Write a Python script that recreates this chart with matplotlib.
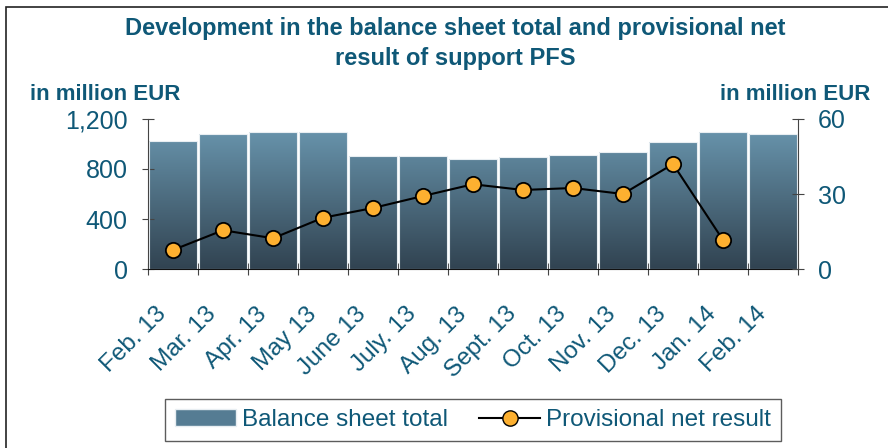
import numpy as np
import matplotlib
matplotlib.use("Agg")
import matplotlib.pyplot as plt
import matplotlib.transforms as mtransforms
from matplotlib.patches import Rectangle, Patch
from matplotlib.lines import Line2D

plt.rcParams['font.family'] = ['Liberation Sans', 'DejaVu Sans']

# data
months = ["Feb. 13", "Mar. 13", "Apr. 13", "May 13", "June 13", "July. 13", "Aug. 13",
          "Sept. 13", "Oct. 13", "Nov. 13", "Dec. 13", "Jan. 14", "Feb. 14"]
balance = [1026, 1077, 1093, 1093, 901, 901, 883, 899, 915, 933, 1013, 1093, 1077]
net_result = [7.6, 15.5, 12.3, 20.5, 24.4, 29.2, 33.9, 31.6, 32.4, 30.0, 42.0, 11.6]

txt = "#0F5877"
top_c = np.array([0x6C, 0x9A, 0xB3]) / 255
bot_c = np.array([0x31, 0x43, 0x51]) / 255

fig = plt.figure(figsize=(8.88, 4.48), dpi=100)
ax = fig.add_axes([148/888, 1-269/448, 650/888, 150/448])

x = np.arange(len(months))
bars = ax.bar(x, balance, width=0.96, color="none", edgecolor="#E8EEF2", linewidth=0.8, zorder=2)

# vertical gradient inside each bar
grad = np.linspace(0, 1, 256).reshape(-1, 1)
cols = bot_c[None, :] * (1 - grad) + top_c[None, :] * grad
cols = cols.reshape(256, 1, 3)
for b in bars:
    im = ax.imshow(cols, origin="lower", aspect="auto", zorder=1,
                   extent=[b.get_x(), b.get_x() + b.get_width(), 0, 1200])
    im.set_clip_path(b)

ax.set_xlim(-0.5, len(months) - 0.5)
ax.set_ylim(0, 1200)
ax.set_yticks([0, 400, 800, 1200])
ax.set_yticklabels(["0", "400", "800", "1,200"])
ax.tick_params(axis="y", direction="inout", length=9, width=0.8, colors="#444444",
               labelcolor=txt, labelsize=18, pad=10)

ax.set_xticks(x)
ax.set_xticklabels(months, rotation=45, ha="right", va="center", rotation_mode="anchor",
                   color=txt, fontsize=17.5)
ax.tick_params(axis="x", length=0, pad=30)
offset = mtransforms.ScaledTranslation(-10/100, 0, fig.dpi_scale_trans)
for lab in ax.get_xticklabels():
    lab.set_transform(lab.get_transform() + offset)
ax.set_xticks(np.arange(len(months) + 1) - 0.5, minor=True)
ax.tick_params(axis="x", which="minor", direction="inout", length=8, width=0.8, colors="#444444")

ax.spines["top"].set_visible(False)
ax.spines["right"].set_visible(False)
ax.spines["left"].set_color("#444444")
ax.spines["bottom"].set_color("#111111")
ax.set_facecolor("none")

ax2 = ax.twinx()
ax2.plot(x[:len(net_result)], net_result, color="black", linewidth=1.5, marker="o",
         markersize=11, markerfacecolor="#FDB030", markeredgecolor="black",
         markeredgewidth=1.3, zorder=5)
ax2.set_ylim(0, 60)
ax2.set_yticks([0, 30, 60])
ax2.tick_params(axis="y", direction="inout", length=9, width=0.8, colors="#444444",
                labelcolor=txt, labelsize=18, pad=10)
for s in ["top", "left", "bottom"]:
    ax2.spines[s].set_visible(False)
ax2.spines["right"].set_color("#444444")

fig.text(455/888, 1-28/448, "Development in the balance sheet total and provisional net",
         ha="center", va="center", fontsize=17, fontweight="bold", color=txt)
fig.text(455/888, 1-58/448, "result of support PFS",
         ha="center", va="center", fontsize=17, fontweight="bold", color=txt)
fig.text(30/888, 1-95/448, "in million EUR", ha="left", va="center",
         fontsize=16, fontweight="bold", color=txt)
fig.text(870/888, 1-95/448, "in million EUR", ha="right", va="center",
         fontsize=16, fontweight="bold", color=txt)

handles = [Patch(facecolor="#557C93", edgecolor="#E8EEF2"),
           Line2D([0], [0], color="black", linewidth=1.5, marker="o", markersize=11,
                  markerfacecolor="#FDB030", markeredgecolor="black")]
leg = fig.legend(handles, ["Balance sheet total", "Provisional net result"],
                 loc="center", bbox_to_anchor=(473/888, 1-420/448), ncol=2,
                 fontsize=17.5, frameon=True, fancybox=False, edgecolor="#333333",
                 handlelength=2.5, handletextpad=0.25, columnspacing=1.3,
                 borderpad=0.4, borderaxespad=0)
for t in leg.get_texts():
    t.set_color(txt)

# outer frame (only left/top edges are visible in the picture)
fig.patches.append(Rectangle((6/888, -0.1), 1.2, 1 - 7/448 + 0.1, transform=fig.transFigure,
                             fill=False, edgecolor="#222222", linewidth=1.2))

fig.savefig("out.png", dpi=100)
